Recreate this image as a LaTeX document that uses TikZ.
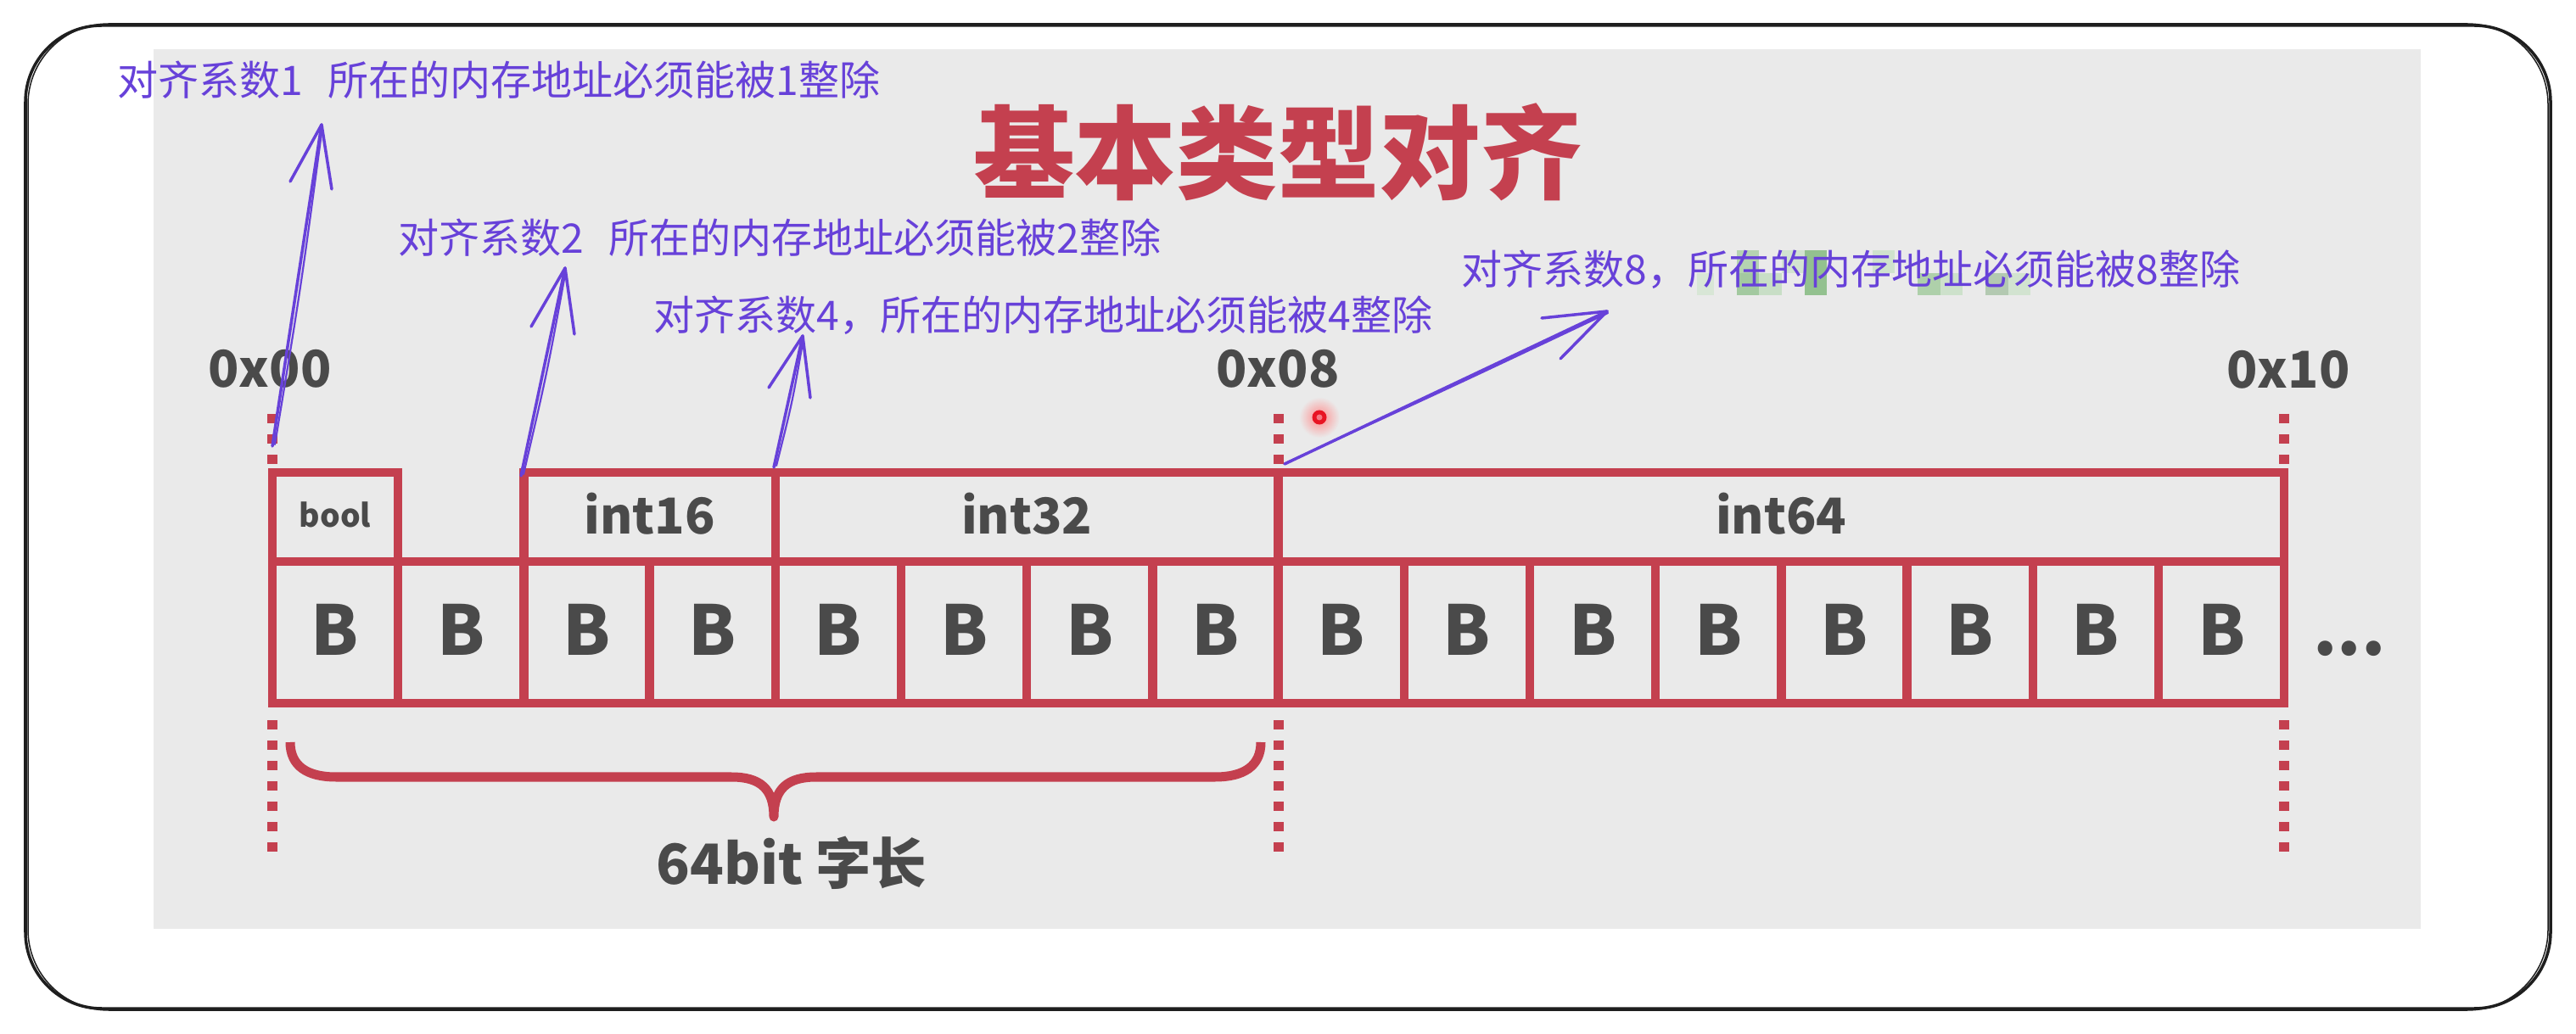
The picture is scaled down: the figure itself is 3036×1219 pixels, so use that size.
\documentclass[tikz,border=0pt]{standalone}
\usepackage{fontspec}
\newfontfamily\cjk{Noto Sans CJK SC}
\usetikzlibrary{calc}
\definecolor{crim}{HTML}{C4404F}
\definecolor{panelgray}{HTML}{EAEAEA}
\definecolor{exviolet}{HTML}{6741D9}
\definecolor{txtgray}{HTML}{4A4A4A}
\definecolor{inkblack}{HTML}{1E1E1E}
\tikzset{
  frame/.style={draw=inkblack, line width=0.035cm},
  gridline/.style={draw=crim, line width=0.105cm, line cap=rect, line join=miter},
  addrline/.style={draw=crim, line width=0.12cm, dash pattern=on 0.11cm off 0.13cm},
  bracepath/.style={draw=crim, line width=0.11cm, line join=round},
  pen/.style={draw=exviolet, line width=0.035cm, line cap=round, line join=round},
  pen2/.style={draw=exviolet, line width=0.022cm, line cap=round},
  note/.style={text=exviolet, inner sep=0, anchor=base west, font=\cjk\fontsize{13.66pt}{16pt}\selectfont},
  addr/.style={text=txtgray, inner sep=0, anchor=base, font=\cjk\bfseries\fontsize{17pt}{19pt}\selectfont},
  typelbl/.style={text=txtgray, inner sep=0, anchor=base, font=\cjk\bfseries\fontsize{16.6pt}{19pt}\selectfont},
  boollbl/.style={text=txtgray, inner sep=0, anchor=base, font=\cjk\bfseries\fontsize{10.6pt}{12pt}\selectfont},
  bytelbl/.style={text=txtgray, inner sep=0, anchor=base, font=\cjk\bfseries\fontsize{23pt}{26pt}\selectfont},
  wordlbl/.style={text=txtgray, inner sep=0, anchor=base, font=\cjk\bfseries\fontsize{18.6pt}{21pt}\selectfont},
  titlelbl/.style={text=crim, inner sep=0, anchor=base, font=\cjk\bfseries\fontsize{34pt}{37pt}\selectfont},
}
\begin{document}
\begin{tikzpicture}[x=0.01cm, y=-0.01cm]
\useasboundingbox (0,0) rectangle (3036,1219);
\fill[white] (0,0) rectangle (3036,1219);
% outer sketch frame
\draw[frame, rounded corners=0.9cm] (30,30) rectangle (3006,1189);
\draw[frame, line width=0.015cm, rounded corners=0.95cm] (33,28) rectangle (3003,1191);
% screenshot panel
\fill[panelgray] (181,58) rectangle (2853,1095);
% title
\node[titlelbl] (title) at (1506,226) {基本类型对齐};
% address labels
\node[addr] (a00) at (318,457) {0x00};
\node[addr] (a08) at (1506,457) {0x08};
\node[addr] (a10) at (2697,458) {0x10};
% address dashed lines
\foreach \xx in {321,1506.6,2692} {
  \draw[addrline] (\xx,488) -- (\xx,552);
  \draw[addrline] (\xx,849) -- (\xx,1017);
}
% grid
\draw[gridline] (321,662) -- (2692,662);
\draw[gridline] (321,829) -- (2692,829);
\draw[gridline] (321,829) -- (321,557) -- (469.2,557) -- (469.2,829);
\draw[gridline] (617.4,829) -- (617.4,557) -- (2692,557) -- (2692,829);
\draw[gridline] (913.8,557) -- (913.8,829);
\draw[gridline] (1506.6,557) -- (1506.6,829);
\foreach \k in {3,5,6,7,9,10,11,12,13,14,15} {
  \draw[gridline] ({321+\k*148.2},662) -- ({321+\k*148.2},829);
}
% type labels
\node[boollbl] (tbool) at (395,622) {bool};
\node[typelbl] (t16) at (765.6,630) {int16};
\node[typelbl] (t32) at (1210.2,630) {int32};
\node[typelbl] (t64) at (2099.3,630) {int64};
% bytes
\foreach \k in {0,...,15} {
  \node[bytelbl] (b\k) at ({321+(\k+0.5)*148.2},772) {B};
}
\node[bytelbl] (dots) at (2769,772) {...};
% brace
\draw[bracepath] (342,875) .. controls (342,903) and (362,916) .. (396,916) -- (862,916)
  .. controls (896,916) and (912,930) .. (912,963)
  .. controls (912,930) and (928,916) .. (962,916) -- (1432,916)
  .. controls (1466,916) and (1486,903) .. (1486,875);
\node[wordlbl] (word) at (933,1042) {64bit 字长};
% green mosaic behind note 8
\fill[fill={rgb,255:red,216;green,230;blue,214}] (2000,322) rectangle (2020,348);
\fill[fill={rgb,255:red,181;green,211;blue,177}] (2046.7,295) rectangle (2073.3,322);
\fill[fill={rgb,255:red,163;green,201;blue,160}] (2046.7,322) rectangle (2073.3,348);
\fill[fill={rgb,255:red,200;green,222;blue,198}] (2073.3,322) rectangle (2100,348);
\fill[fill={rgb,255:red,210;green,227;blue,208}] (2100,295) rectangle (2126.7,322);
\fill[fill={rgb,255:red,147;green,193;blue,143}] (2126.7,295) rectangle (2153.3,348);
\fill[fill={rgb,255:red,207;green,226;blue,205}] (2206.7,295) rectangle (2233.3,322);
\fill[fill={rgb,255:red,174;green,208;blue,170}] (2260,322) rectangle (2286.7,348);
\fill[fill={rgb,255:red,205;green,225;blue,203}] (2286.7,322) rectangle (2313.3,348);
\fill[fill={rgb,255:red,179;green,201;blue,177}] (2340,322) rectangle (2366.7,348);
\fill[fill={rgb,255:red,210;green,227;blue,208}] (2366.7,322) rectangle (2393.3,348);
% laser pointer dot
\shade[inner color=red!45, outer color=panelgray] (1555,492) circle[radius=0.24cm];
\fill[fill={rgb,255:red,232;green,20;blue,35}] (1555,492) circle[radius=0.085cm];
\fill[fill={rgb,255:red,245;green,120;blue,130}] (1555,492) circle[radius=0.035cm];
% notes
\node[note] (n1) at (138,113) {对齐系数1\hspace{0.6em}所在的内存地址必须能被1整除};
\node[note] (n2) at (469,299) {对齐系数2\hspace{0.6em}所在的内存地址必须能被2整除};
\node[note] (n4) at (770,390) {对齐系数4，所在的内存地址必须能被4整除};
\node[note] (n8) at (1722,336) {对齐系数8，所在的内存地址必须能被8整除};
% arrow coordinates
\coordinate (p1t) at (321,526); \coordinate (p1h) at (379,147);
\coordinate (p1l) at (342,214); \coordinate (p1r) at (391,223);
\coordinate (p2t) at (614,561); \coordinate (p2h) at (666,316);
\coordinate (p2l) at (626,385); \coordinate (p2r) at (677,394);
\coordinate (p3t) at (912,551); \coordinate (p3h) at (946,396);
\coordinate (p3l) at (906,457); \coordinate (p3r) at (955,469);
\coordinate (p4t) at (1514,547); \coordinate (p4h) at (1894,367);
\coordinate (p4l) at (1817,375); \coordinate (p4r) at (1839,423);
% arrows (sketchy double strokes)
\foreach \i in {1,2,3,4} {
  \draw[pen] (p\i t) -- (p\i h);
  \draw[pen2] ($(p\i t)+(3,-2)$) .. controls ($(p\i t)!0.5!(p\i h)+(5,0)$) .. ($(p\i h)+(1,2)$);
  \draw[pen] (p\i h) -- (p\i l);
  \draw[pen] (p\i h) -- (p\i r);
}
\end{tikzpicture}
\end{document}
